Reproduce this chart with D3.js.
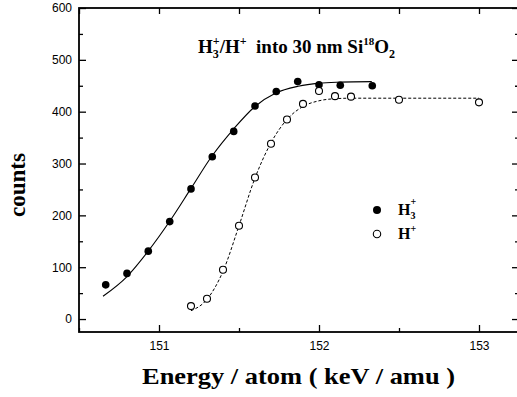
<!DOCTYPE html>
<html>
<head>
<meta charset="utf-8">
<script src="https://cdn.jsdelivr.net/npm/d3@7"></script>
<style>
  body { margin: 0; background: #fff; }
  svg { display: block; }
  .tick text { font-family: "Liberation Sans", Arial, sans-serif; font-size: 12px; fill: #000; }
  .tick line { stroke: #000; stroke-width: 1.3; }
</style>
</head>
<body>
<svg id="chart" width="517" height="397"></svg>
<script>
// measured points
const h3Energy = [150.667, 150.8, 150.933, 151.067, 151.2, 151.333, 151.467, 151.6, 151.733, 151.867, 152.0, 152.133, 152.333];
const h3Counts = [66, 88, 131, 188, 251, 313, 362, 411, 439, 458, 452, 451, 450];
const hEnergy = [151.2, 151.3, 151.4, 151.5, 151.6, 151.7, 151.8, 151.9, 152.0, 152.1, 152.2, 152.5, 153.0];
const hCounts = [25, 39, 95, 180, 273, 338, 385, 415, 440, 430, 429, 423, 418];

// fitted curves
const h3FitEnergy = [150.65, 150.8, 150.93, 151.07, 151.2, 151.33, 151.47, 151.6, 151.73, 151.87, 152.0, 152.13, 152.33];
const h3FitCounts = [44, 82, 130, 190, 252, 314, 368, 410, 436, 449, 455, 457, 458];
const hFitEnergy = [151.2, 151.3, 151.4, 151.5, 151.6, 151.7, 151.8, 151.9, 152.0, 152.1, 152.2, 152.5, 153.0];
const hFitCounts = [16, 38, 92, 180, 272, 340, 385, 410, 421, 425, 426, 426, 426];

const xMajor = [151, 152, 153];
const xMinor = [150.5, 151.5, 152.5];
const yMajor = [0, 100, 200, 300, 400, 500, 600];
const yMinor = [50, 150, 250, 350, 450, 550];

const plotLeft = 79, plotRight = 519, plotTop = 8, plotBottom = 332;

const svg = d3.select('#chart');

const x = d3.scaleLinear().domain([150.5, 153.25]).range([plotLeft, plotRight]);
const y = d3.scaleLinear().domain([-25, 600]).range([plotBottom, plotTop]);

// axes: ticks pointing inward
svg.append('g')
  .attr('transform', `translate(0,${plotBottom})`)
  .call(d3.axisBottom(x).tickValues(xMajor).tickSize(-7).tickPadding(9).tickFormat(d3.format('d')))
  .call(g => g.select('.domain').remove());
svg.append('g')
  .attr('transform', `translate(0,${plotBottom})`)
  .call(d3.axisBottom(x).tickValues(xMinor).tickSize(-4).tickFormat(''))
  .call(g => g.select('.domain').remove());
svg.append('g')
  .attr('transform', `translate(0,${plotTop})`)
  .call(d3.axisTop(x).tickValues(xMajor.concat(xMinor)).tickSize(-6).tickFormat(''))
  .call(g => g.select('.domain').remove());

svg.append('g')
  .attr('transform', `translate(${plotLeft},0)`)
  .call(d3.axisLeft(y).tickValues(yMajor).tickSize(-7).tickPadding(7))
  .call(g => g.select('.domain').remove());
svg.append('g')
  .attr('transform', `translate(${plotLeft},0)`)
  .call(d3.axisLeft(y).tickValues(yMinor).tickSize(-4).tickFormat(''))
  .call(g => g.select('.domain').remove());
svg.append('g')
  .attr('transform', `translate(${plotRight},0)`)
  .call(d3.axisRight(y).tickValues(yMajor).tickSize(-7).tickFormat(''))
  .call(g => g.select('.domain').remove());
svg.append('g')
  .attr('transform', `translate(${plotRight},0)`)
  .call(d3.axisRight(y).tickValues(yMinor).tickSize(-4).tickFormat(''))
  .call(g => g.select('.domain').remove());

// frame
svg.append('rect')
  .attr('x', plotLeft).attr('y', plotTop)
  .attr('width', plotRight - plotLeft).attr('height', plotBottom - plotTop)
  .attr('fill', 'none').attr('stroke', '#000').attr('stroke-width', 1.8);

// fit lines
const line = d3.line().x(d => x(d[0])).y(d => y(d[1])).curve(d3.curveMonotoneX);
svg.append('path')
  .datum(d3.zip(h3FitEnergy, h3FitCounts))
  .attr('d', line)
  .attr('fill', 'none').attr('stroke', '#000').attr('stroke-width', 1.1);
svg.append('path')
  .datum(d3.zip(hFitEnergy, hFitCounts))
  .attr('d', line)
  .attr('fill', 'none').attr('stroke', '#000').attr('stroke-width', 1)
  .attr('stroke-dasharray', '3,2');

// points
svg.selectAll('circle.h3')
  .data(d3.zip(h3Energy, h3Counts))
  .enter().append('circle')
  .attr('class', 'h3')
  .attr('cx', d => x(d[0])).attr('cy', d => y(d[1]))
  .attr('r', 3.8).attr('fill', '#000');
svg.selectAll('circle.h1')
  .data(d3.zip(hEnergy, hCounts))
  .enter().append('circle')
  .attr('class', 'h1')
  .attr('cx', d => x(d[0])).attr('cy', d => y(d[1]))
  .attr('r', 3.5).attr('fill', '#fff').attr('stroke', '#000').attr('stroke-width', 1.1);

const serif = '"Liberation Serif", "Times New Roman", serif';

// title
const title = svg.append('text')
  .attr('x', 198).attr('y', 53)
  .attr('font-family', serif).attr('font-weight', 'bold').attr('font-size', 19);
title.append('tspan').text('H');
title.append('tspan').attr('font-size', 12).attr('dy', 5).text('3');
title.append('tspan').attr('font-size', 12).attr('dx', -6).attr('dy', -13).text('+');
title.append('tspan').attr('dy', 8).text('/H');
title.append('tspan').attr('font-size', 12).attr('dy', -8).text('+');
title.append('tspan').attr('dy', 8).text('\u00a0 into 30 nm Si');
title.append('tspan').attr('font-size', 11).attr('dy', -8).text('18');
title.append('tspan').attr('dy', 8).text('O');
title.append('tspan').attr('font-size', 12).attr('dy', 5).text('2');

// legend
svg.append('circle').attr('cx', 377).attr('cy', 210).attr('r', 4).attr('fill', '#000');
svg.append('circle').attr('cx', 377).attr('cy', 234).attr('r', 3.7)
  .attr('fill', '#fff').attr('stroke', '#000').attr('stroke-width', 1.1);
const l1 = svg.append('text').attr('x', 398).attr('y', 215)
  .attr('font-family', serif).attr('font-weight', 'bold').attr('font-size', 16);
l1.append('tspan').text('H');
l1.append('tspan').attr('font-size', 10).attr('dy', 4).text('3');
l1.append('tspan').attr('font-size', 10).attr('dx', -5).attr('dy', -14).text('+');
const l2 = svg.append('text').attr('x', 398).attr('y', 239)
  .attr('font-family', serif).attr('font-weight', 'bold').attr('font-size', 16);
l2.append('tspan').text('H');
l2.append('tspan').attr('font-size', 10).attr('dy', -7).text('+');

// axis titles
svg.append('text')
  .attr('x', 142).attr('y', 384)
  .attr('textLength', 313).attr('lengthAdjust', 'spacingAndGlyphs')
  .attr('font-family', serif).attr('font-weight', 'bold').attr('font-size', 23.5)
  .text('Energy / atom ( keV / amu )');
svg.append('text')
  .attr('transform', 'translate(25,185) rotate(-90)')
  .attr('text-anchor', 'middle')
  .attr('font-family', serif).attr('font-weight', 'bold').attr('font-size', 23)
  .text('counts');
</script>
</body>
</html>
